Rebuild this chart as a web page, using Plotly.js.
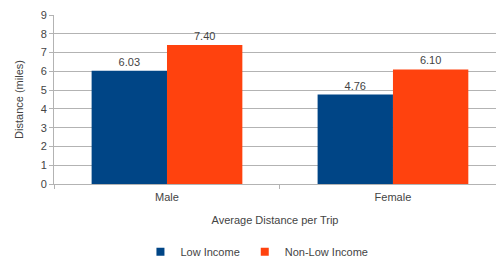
<!DOCTYPE html>
<html>
<head>
<meta charset="utf-8">
<script src="https://cdn.plot.ly/plotly-3.0.1.min.js"></script>
<style>html,body{margin:0;padding:0;background:#fff;}#chart{width:497px;height:259px;}</style>
</head>
<body>
<div id="chart"></div>
<script>
const categories = ["Male", "Female"];
const seriesNames = ["Low Income", "Non-Low Income"];
const lowIncome = [6.03, 4.76];
const nonLowIncome = [7.40, 6.10];
const yTicks = [0, 1, 2, 3, 4, 5, 6, 7, 8, 9];
const colors = ["#004586", "#ff420e"];

const font = {family: "Liberation Sans, Arial, sans-serif", size: 11, color: "#444444"};

const series = [lowIncome, nonLowIncome];
const data = series.map((vals, i) => ({
  type: "bar", name: seriesNames[i], x: categories, y: vals, showlegend: false,
  marker: {color: colors[i]}, text: vals.map(v => v.toFixed(2)),
  textposition: "outside", cliponaxis: false, textfont: {size: 11, color: "#444444"}
}));
// legend entries with small square swatches
seriesNames.forEach((n, i) => data.push({
  type: "scatter", mode: "markers", name: n, x: [null], y: [null], showlegend: true,
  marker: {symbol: "square", size: 8, color: colors[i]}
}));

const layout = {
  width: 497, height: 259,
  margin: {l: 54, r: 1, t: 15, b: 75, autoexpand: false},
  paper_bgcolor: "#ffffff", plot_bgcolor: "#ffffff",
  font: font,
  barmode: "group", bargap: 0.333, bargroupgap: 0,
  showlegend: true,
  legend: {orientation: "h", xref: "container", yref: "container",
           x: 0.517, xanchor: "center", y: 0.028, yanchor: "middle",
           font: {size: 11, color: "#444444"}, itemwidth: 30, itemsizing: "trace"},
  xaxis: {type: "category", range: [-0.5, 1.456], tickson: "boundaries",
          ticks: "outside", ticklen: 4, tickcolor: "#b3b3b3", ticklabelstandoff: 3,
          showline: true, linecolor: "#b3b3b3", showgrid: false,
          title: {text: "Average Distance per Trip", standoff: 14, font: {size: 11, color: "#444444"}}},
  yaxis: {range: [0, 9], tickvals: yTicks, ticks: "outside", ticklen: 4, tickcolor: "#b3b3b3",
          showline: true, linecolor: "#b3b3b3", gridcolor: "#b3b3b3", zeroline: false,
          title: {text: "Distance (miles)", standoff: 14, font: {size: 11, color: "#444444"}}}
};

Plotly.newPlot("chart", data, layout, {displayModeBar: false, staticPlot: true});
</script>
</body>
</html>
